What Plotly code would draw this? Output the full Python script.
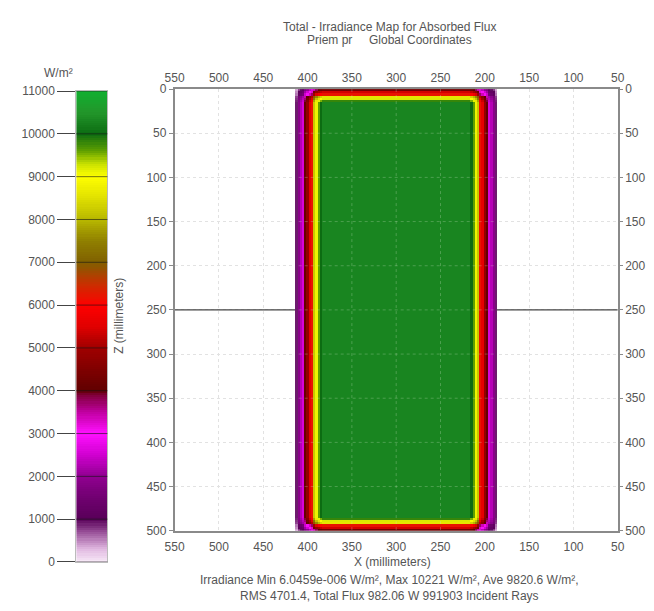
import numpy as np
import plotly.graph_objects as go

W, H = 654, 611

# ---------------- data ----------------
TITLE_1 = "Total - Irradiance Map for Absorbed Flux"
TITLE_2 = "Priem pr     Global Coordinates"
X_LABEL = "X (millimeters)"
Z_LABEL = "Z (millimeters)"
STATS_1 = "Irradiance Min 6.0459e-006 W/m², Max 10221 W/m², Ave 9820.6 W/m²,"
STATS_2 = "RMS 4701.4, Total Flux 982.06 W 991903 Incident Rays"
CBAR_TITLE = "W/m²"

X_TICKS = [550, 500, 450, 400, 350, 300, 250, 200, 150, 100, 50]
Z_TICKS = [0, 50, 100, 150, 200, 250, 300, 350, 400, 450, 500]
CBAR_TICKS = [0, 1000, 2000, 3000, 4000, 5000, 6000, 7000, 8000, 9000, 10000, 11000]
CBAR_TICKTEXT = ["0", "1000", "2000", "3000", "4000", "5000", "6000", "7000", "8000",
                 "9000", "10000", "11000"]

# footprint: centre x and cell step (mm)
X_CENTER = 300.0
CELL = 2.5
Z_SIZE = 500.0
# irradiance across the left/right edge, by distance from centre (mm)
X_EDGE_DIST = [115.0, 112.5, 110.0, 107.5, 105.0, 102.5, 100.0, 97.5, 95.0, 92.5, 90.0, 87.5, 85.0]
X_EDGE_VALS = [None, 900, 1900, 2300, 2600, 4100, 4800, 5600, 6200, 8200, 9100, 9600, 10000]
# irradiance across the top/bottom edge, by depth from the edge (mm)
Z_EDGE_DEPTH = [1.25, 3.75, 6.25, 8.75, 11.25, 13.75]
Z_EDGE_VALS = [4300, 5400, 6200, 8600, 9200, 9800]
INTERIOR = 10300.0

# colour map of the legend bar (W/m², colour)
CMAP_VALS = [0, 300, 700, 1000, 1500, 2000, 2500, 3000, 3500, 3900, 4000, 4500, 5000, 5500,
             6000, 6500, 7000, 7500, 8000, 8500, 9000, 9300, 9600, 10000, 10500, 11000]
CMAP_COLS = ["#f8eaf8", "#e0b8e0", "#985098", "#580058", "#700070", "#900090", "#d000d0",
             "#ff10ff", "#c000a0", "#80003a", "#600000", "#800000", "#a00000", "#e00000",
             "#ff0000", "#c83000", "#806000", "#908000", "#b8b800", "#e0e000", "#ffff00",
             "#c8e000", "#60a000", "#0c6c12", "#22962a", "#10b030"]
ZMAX = 11000.0

# ---------------- build grid ----------------
kmax = int(round(X_EDGE_DIST[0] / CELL))
xs = [X_CENTER + k * CELL for k in range(-kmax, kmax + 1)]
xprof = dict(zip(X_EDGE_DIST, X_EDGE_VALS))
zs = [CELL / 2 + i * CELL for i in range(int(Z_SIZE / CELL))]
zprof = dict(zip(Z_EDGE_DEPTH, Z_EDGE_VALS))


def px_of(x):
    d = round(abs(x - X_CENTER), 3)
    if d in xprof:
        return xprof[d]
    return INTERIOR if d < X_EDGE_DIST[-1] else None


def pz_of(z):
    dep = round(min(z, Z_SIZE - z), 3)
    return zprof.get(dep, INTERIOR)


grid = []
for z in zs:
    row = []
    pz = pz_of(z)
    for x in xs:
        p = px_of(x)
        row.append(None if p is None else p * pz / INTERIOR)
    grid.append(row)

colorscale = [[v / ZMAX, c] for v, c in zip(CMAP_VALS, CMAP_COLS)]

# ---------------- layout geometry (pixels) ----------------
PL, PR, PT, PB = 169, 624, 84, 536
CL, CR, CT, CB = 68, 100, 86, 568


def fx(p):
    return p / W


def fy(p):
    return 1 - p / H


TXT = "#555555"
FONT = "Liberation Sans, Arial, sans-serif"

fig = go.Figure()
fig.add_trace(go.Heatmap(x=xs, y=zs, z=grid, colorscale=colorscale, zmin=0, zmax=ZMAX,
                         showscale=False, hoverinfo="skip", xaxis="x", yaxis="y"))
# overlay axes (top / right labels)
fig.add_trace(go.Scatter(x=[550, 50], y=[0, 500], mode="markers", marker=dict(opacity=0),
                         hoverinfo="skip", showlegend=False, xaxis="x3", yaxis="y3"))
# legend bar
cb_y = [v + 25 for v in range(0, int(ZMAX), 50)]
fig.add_trace(go.Heatmap(x=[0], y=cb_y, z=[[v] for v in cb_y], colorscale=colorscale,
                         zmin=0, zmax=ZMAX, showscale=False, hoverinfo="skip",
                         xaxis="x2", yaxis="y2"))

axfont = dict(family=FONT, size=12, color=TXT)
common_x = dict(range=[550, 50], tickvals=X_TICKS, tickfont=axfont, ticks="",
                zeroline=False, domain=[fx(PL), fx(PR)])
fig.update_layout(
    width=W, height=H, margin=dict(l=0, r=0, t=0, b=0),
    paper_bgcolor="white", plot_bgcolor="white", showlegend=False,
    font=dict(family=FONT, color=TXT, size=12),
    xaxis=dict(**common_x, anchor="y", side="bottom", showline=True, mirror=True,
               linecolor="#8a8a8a", linewidth=1.5, showgrid=True, gridcolor="#e2e2e2",
               griddash="dot", ticklabelstandoff=4),
    xaxis3=dict(**common_x, anchor="y", side="top", overlaying="x", showline=False,
                showgrid=False, ticklabelstandoff=4),
    yaxis=dict(range=[500, 0], tickvals=Z_TICKS, tickfont=axfont, anchor="x",
               domain=[fy(PB), fy(PT)], side="left", showline=True, mirror=True,
               linecolor="#8a8a8a", linewidth=1.5, ticks="outside", ticklen=4,
               tickcolor="#8a8a8a", showgrid=True, gridcolor="#e2e2e2", griddash="dot",
               zeroline=False, ticklabelstandoff=0),
    yaxis3=dict(range=[500, 0], tickvals=Z_TICKS, tickfont=axfont, anchor="x",
                overlaying="y", side="right", ticks="outside", ticklen=4,
                tickcolor="#8a8a8a", showgrid=False, zeroline=False, ticklabelstandoff=0),
    xaxis2=dict(domain=[fx(CL), fx(CR)], range=[-0.5, 0.5], anchor="y2", showticklabels=False,
                ticks="", showgrid=False, zeroline=False, showline=True, mirror=True,
                linecolor="#bbbbbb", linewidth=1),
    yaxis2=dict(domain=[fy(CB), fy(CT)], range=[0, ZMAX], anchor="x2", tickvals=CBAR_TICKS,
                ticktext=CBAR_TICKTEXT, tickfont=axfont, ticks="outside", ticklen=18,
                tickcolor="#444444", showgrid=False, zeroline=False, showline=True,
                mirror=True, linecolor="#bbbbbb", linewidth=1, ticklabelstandoff=0),
)

shapes = []
# horizontal reference line at z = 250 (above grid, behind map)
shapes.append(dict(type="line", xref="x", yref="y", x0=550, x1=50, y0=250, y1=250,
                   line=dict(color="#444444", width=1.2), layer="between"))
# faint grid drawn on top of the map area
for xv in [350, 300, 250]:
    shapes.append(dict(type="line", xref="x", yref="y", x0=xv, x1=xv, y0=0, y1=500,
                       line=dict(color="rgba(210,230,200,0.28)", width=1, dash="dot"),
                       layer="above"))
for zv in Z_TICKS[1:-1]:
    shapes.append(dict(type="line", xref="x", yref="y", x0=410, x1=190, y0=zv, y1=zv,
                       line=dict(color="rgba(210,230,200,0.28)", width=1, dash="dot"),
                       layer="above"))
# legend tick lines crossing the bar
for v in CBAR_TICKS:
    shapes.append(dict(type="line", xref="x2 domain", yref="y2", x0=0, x1=1, y0=v, y1=v,
                       line=dict(color="rgba(20,20,20,0.6)", width=1), layer="above"))
fig.update_layout(shapes=shapes)

ann = [
    dict(text=TITLE_1, x=fx(390), y=fy(20)),
    dict(text=TITLE_2, x=fx(390), y=fy(34)),
    dict(text=X_LABEL, x=fx(393), y=fy(568)),
    dict(text=STATS_1, x=fx(390), y=fy(586)),
    dict(text=STATS_2, x=fx(390), y=fy(603)),
    dict(text=CBAR_TITLE, x=fx(50), y=fy(68)),
]
annotations = [dict(a, xref="paper", yref="paper", showarrow=False, xanchor="center",
                    yanchor="middle", font=dict(family=FONT, size=12, color=TXT)) for a in ann]
annotations.append(dict(text=Z_LABEL, x=fx(112), y=fy(316), xref="paper", yref="paper",
                        showarrow=False, textangle=-90, xanchor="center", yanchor="middle",
                        font=dict(family=FONT, size=12, color=TXT)))
fig.update_layout(annotations=annotations)

fig.write_html("out.html")
